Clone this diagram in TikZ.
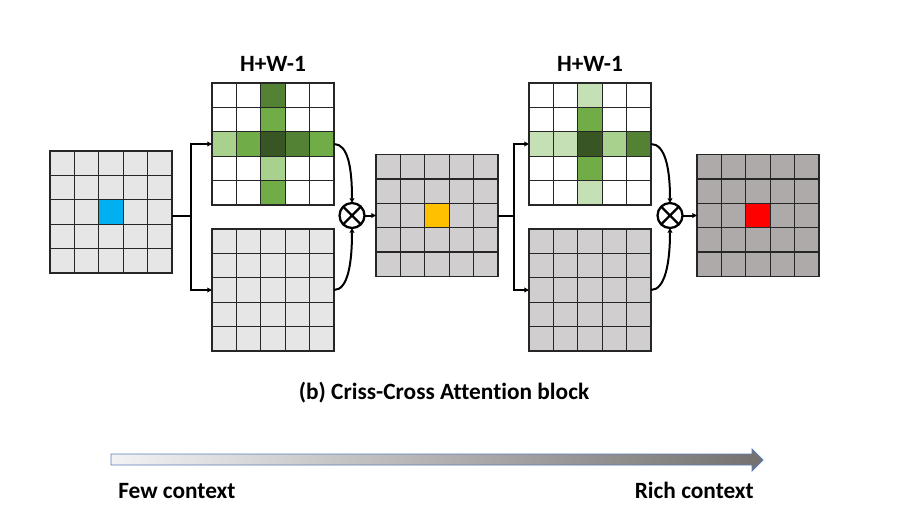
\documentclass[tikz,border=0pt]{standalone}
\usepackage{fontspec}
\setmainfont{Carlito}[Ligatures=NoCommon]
\usetikzlibrary{arrows.meta}
\definecolor{lg}{HTML}{E6E6E6}
\definecolor{mg}{HTML}{D0CECE}
\definecolor{dg}{HTML}{AEAAAA}
\definecolor{gA}{HTML}{C5E0B4}
\definecolor{gB}{HTML}{A9D18E}
\definecolor{gC}{HTML}{70AD47}
\definecolor{gD}{HTML}{548235}
\definecolor{gE}{HTML}{375623}
\definecolor{cblue}{HTML}{00B0F0}
\definecolor{corange}{HTML}{FFC000}
\definecolor{cred}{HTML}{FF0000}
\definecolor{arrL}{HTML}{F2F2F4}
\definecolor{arrR}{HTML}{747070}
\definecolor{arrO}{HTML}{5B7DB5}
\newcommand\gridbox[4]{\node[gbox, fill=#4] (#1) at (#2+61,#3+61) {};}
\newcommand\gcell[5]{\fill[#5] (#1+#3*24.4-24.4, #2+#4*24.4-24.4) rectangle ++(24.4,24.4);}
\newcommand\glines[2]{%
  \foreach \k in {1,...,4}{\draw[gline] (#1+\k*24.4,#2) -- ++(0,122); \draw[gline] (#1,#2+\k*24.4) -- ++(122,0);}
  \draw[gline] (#1,#2) rectangle ++(122,122);}
\begin{document}
\begin{tikzpicture}[x=0.75pt, y=-0.75pt,
  gbox/.style={rectangle, inner sep=0pt, outer sep=0pt, minimum size=91.5pt},
  gline/.style={draw=black!85, line width=0.95pt},
  conn/.style={line width=1.5pt},
  >={Triangle[length=3.5pt,width=3.5pt]},
  otimes/.style={circle, draw, line width=1.7pt, minimum size=18.75pt, inner sep=0pt, outer sep=0pt,
    path picture={\draw[line width=1.7pt] (path picture bounding box.north west) -- (path picture bounding box.south east) (path picture bounding box.north east) -- (path picture bounding box.south west);}},
  lbl/.style={font=\bfseries\fontsize{17.5}{21}\selectfont, inner sep=0pt}]
\useasboundingbox (0,0) rectangle (902,522);
% grid 1
\gridbox{g1}{50}{151}{lg}
\gcell{50}{151}{3}{3}{cblue}
\glines{50}{151}
% grid 2
\gridbox{g2}{212}{83}{white}
\gcell{212}{83}{3}{1}{gD}
\gcell{212}{83}{3}{2}{gC}
\gcell{212}{83}{1}{3}{gB}
\gcell{212}{83}{2}{3}{gC}
\gcell{212}{83}{3}{3}{gE}
\gcell{212}{83}{4}{3}{gD}
\gcell{212}{83}{5}{3}{gC}
\gcell{212}{83}{3}{4}{gB}
\gcell{212}{83}{3}{5}{gC}
\glines{212}{83}
% grid 3
\gridbox{g3}{212}{229}{lg}
\glines{212}{229}
% grid 4
\gridbox{g4}{376}{154.5}{mg}
\gcell{376}{154.5}{3}{3}{corange}
\glines{376}{154.5}
% grid 5
\gridbox{g5}{529}{83}{white}
\gcell{529}{83}{3}{1}{gA}
\gcell{529}{83}{3}{2}{gC}
\gcell{529}{83}{1}{3}{gA}
\gcell{529}{83}{2}{3}{gA}
\gcell{529}{83}{3}{3}{gE}
\gcell{529}{83}{4}{3}{gB}
\gcell{529}{83}{5}{3}{gD}
\gcell{529}{83}{3}{4}{gC}
\gcell{529}{83}{3}{5}{gA}
\glines{529}{83}
% grid 6
\gridbox{g6}{529}{229}{mg}
\glines{529}{229}
% grid 7
\gridbox{g7}{697}{154.5}{dg}
\gcell{697}{154.5}{3}{3}{cred}
\glines{697}{154.5}
% multiply nodes
\node[otimes] (m1) at (352,215.5) {};
\node[otimes] (m2) at (670,215.5) {};
% branches
\coordinate (j1) at (191,216);
\coordinate (j2) at (514,215.5);
\draw[conn] (g1.east |- j1) -- (j1);
\draw[conn,->] (j1) |- (g2.west);
\draw[conn,->] (j1) |- (g3.west);
\draw[conn,->] (g2.east) .. controls +(14,0) and +(0,-35) .. (m1.north);
\draw[conn,->] (g3.east) .. controls +(14,0) and +(0,35) .. (m1.south);
\draw[conn,->] (m1.east) -- (g4.west);
\draw[conn] (g4.east) -- (j2);
\draw[conn,->] (j2) |- (g5.west);
\draw[conn,->] (j2) |- (g6.west);
\draw[conn,->] (g5.east) .. controls +(14,0) and +(0,-35) .. (m2.north);
\draw[conn,->] (g6.east) .. controls +(14,0) and +(0,35) .. (m2.south);
\draw[conn,->] (m2.east) -- (g7.west);
% labels
\node[lbl, anchor=base] (t1) at (273,71) {H+W-1};
\node[lbl, anchor=base] (t2) at (590,71) {H+W-1};
\node[lbl, anchor=base] (cap) at (444,399) {(b) Criss-Cross Attention block};
% context arrow
\path[draw=arrO, line width=0.6pt, left color=arrL, right color=arrR]
  (111,454) -- (752,454) -- (752,449) -- (763,460) -- (752,471) -- (752,465) -- (111,465) -- cycle;
\node[lbl, anchor=base west] (few) at (118,498) {Few context};
\node[lbl, anchor=base east] (rich) at (754,498) {Rich context};
\end{tikzpicture}
\end{document}
